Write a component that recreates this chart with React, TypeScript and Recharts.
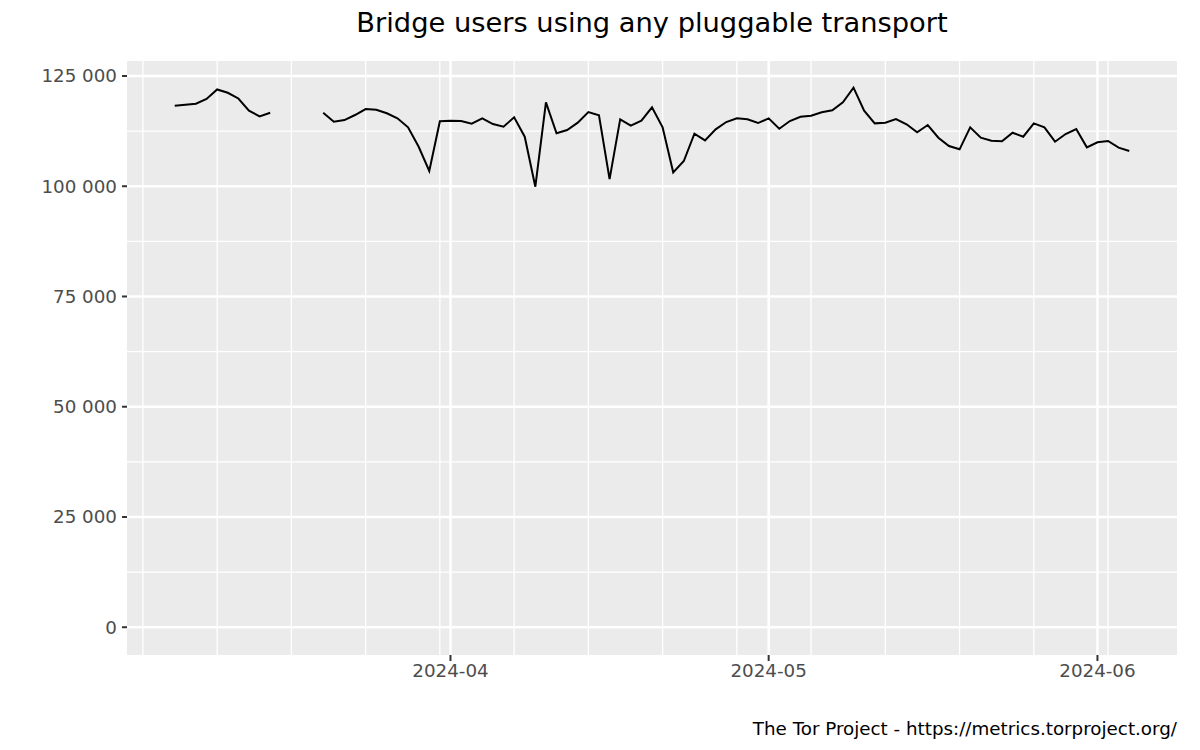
import { LineChart, Line, XAxis, YAxis, CartesianGrid } from "recharts";

const DAY = 86400000;
const FONT = "'DejaVu Sans', 'Liberation Sans', sans-serif";

// daily values starting 2024-03-06 (null = no data)
const firstDay = "2024-03-06";
const users = [
  118260, 118500, 118720, 119800, 121950, 121200, 119900, 117130, 115850, 116670,
  null, null, null, null,
  116670, 114630, 115000, 116150, 117510, 117360, 116540, 115400, 113360, 108960,
  103450, 114720, 114860, 114790, 114180, 115400, 114110, 113500, 115630, 111230,
  99890, 119030, 112000, 112750, 114410, 116830, 116080, 101630, 115170, 113730,
  114860, 117900, 113360, 103150, 105720, 111910, 110400, 112900, 114560, 115400,
  115170, 114330, 115400, 113040, 114790, 115760, 116000, 116760, 117210, 119030,
  122350, 117130, 114260, 114410, 115240, 114040, 112220, 113880, 111000, 109120,
  108370, 113360, 111000, 110320, 110190, 112140, 111230, 114260, 113360, 110100,
  111840, 112980, 108820, 109960, 110260, 108740, 107990,
];

const monthTicks = ["2024-04-01", "2024-05-01", "2024-06-01"];
const weekLines = [
  "2024-03-03", "2024-03-10", "2024-03-17", "2024-03-24", "2024-03-31",
  "2024-04-07", "2024-04-14", "2024-04-21", "2024-04-28", "2024-05-05",
  "2024-05-12", "2024-05-19", "2024-05-26", "2024-06-02",
];
const yTicks = [0, 25000, 50000, 75000, 100000, 125000];
const yMinor = [12500, 37500, 62500, 87500, 112500];

const ts = (s: string) => Date.parse(s + "T00:00:00Z");
const start = ts(firstDay);
const data = users.map((v, i) => ({ date: start + i * DAY, users: v }));

const xDomain = [ts("2024-03-01") + DAY / 2, ts("2024-06-08") + DAY / 2];

const fmtDate = (t: number) => new Date(t).toISOString().slice(0, 7);
const fmtNum = (v: number) =>
  String(v).replace(/\B(?=(\d{3})+(?!\d))/g, " ");

export default function App() {
  return (
    <div style={{ position: "relative", width: 1200, height: 750, background: "#fff" }}>
      <style>{"body{margin:0}"}</style>
      <LineChart
        width={1200}
        height={750}
        data={data}
        margin={{ top: 61, right: 23, bottom: 0, left: 0 }}
      >
        <CartesianGrid
          fill="#EBEBEB"
          stroke="#fff"
          strokeWidth={1.3}
          horizontalValues={yMinor}
          verticalValues={weekLines.map(ts)}
        />
        <CartesianGrid
          stroke="#fff"
          strokeWidth={2.5}
          horizontalValues={yTicks}
          verticalValues={monthTicks.map(ts)}
        />
        <XAxis
          dataKey="date"
          type="number"
          domain={xDomain}
          allowDataOverflow
          ticks={monthTicks.map(ts)}
          tickFormatter={fmtDate}
          interval={0}
          height={95}
          axisLine={false}
          tickLine={{ stroke: "#333", strokeWidth: 2 }}
          tickSize={6}
          tickMargin={3}
          tick={{ fill: "#4D4D4D", fontSize: 18.3, fontFamily: FONT }}
        />
        <YAxis
          type="number"
          domain={[-6300, 128400]}
          allowDataOverflow
          ticks={yTicks}
          tickFormatter={fmtNum}
          interval={0}
          width={127}
          axisLine={false}
          tickLine={{ stroke: "#333", strokeWidth: 2 }}
          tickSize={5}
          tickMargin={5}
          tick={{ fill: "#4D4D4D", fontSize: 18.3, fontFamily: FONT }}
        />
        <Line
          dataKey="users"
          stroke="#000"
          strokeWidth={2}
          dot={false}
          activeDot={false}
          isAnimationActive={false}
          connectNulls={false}
        />
      </LineChart>
      <svg
        width={1200}
        height={750}
        style={{ position: "absolute", left: 0, top: 0, pointerEvents: "none" }}
      >
        <text x={652} y={32} textAnchor="middle" fontFamily={FONT} fontSize={27.3} fill="#000">
          Bridge users using any pluggable transport
        </text>
        <text x={1177} y={735} textAnchor="end" fontFamily={FONT} fontSize={18.3} fill="#000">
          The Tor Project - https://metrics.torproject.org/
        </text>
      </svg>
    </div>
  );
}
